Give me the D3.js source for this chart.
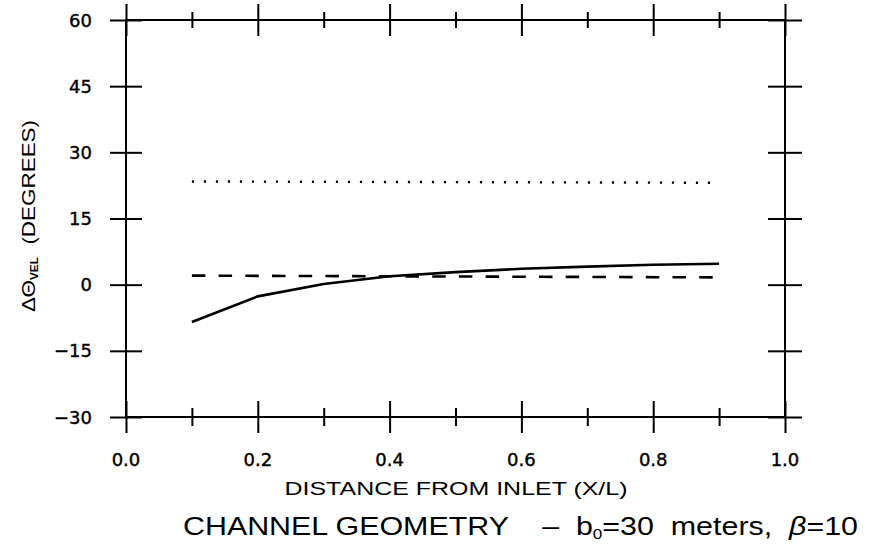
<!DOCTYPE html>
<html>
<head>
<meta charset="utf-8">
<script src="https://cdn.jsdelivr.net/npm/d3@7"></script>
<style>
  body { margin: 0; background: #fff; }
  text { fill: #000; }
</style>
</head>
<body>
<div id="chart"></div>
<script>
// values
let xMajor = [0, 0.2, 0.4, 0.6, 0.8, 1.0]
let xMinor = [0.1, 0.3, 0.5, 0.7, 0.9]
let yTicks = [-30, -15, 0, 15, 30, 45, 60]

let solidX = [0.1, 0.2, 0.3, 0.4, 0.5, 0.6, 0.7, 0.8, 0.9]
let solidY = [-8.45, -2.65, 0.15, 1.9, 2.85, 3.6, 4.1, 4.5, 4.75]

let dashedX = [0.1, 0.9]
let dashedY = [2.05, 1.65]

let dottedX = [0.1, 0.9]
let dottedY = [23.4, 23.1]

let width = 880
let height = 558
let margin = { top: 20, left: 126, right: 95, bottom: 141 }

let svg = d3
  .select('#chart')
  .append('svg')
  .attr('width', width)
  .attr('height', height)

let x = d3.scaleLinear().domain([0, 1]).range([margin.left, width - margin.right])
let y = d3.scaleLinear().domain([-30, 60]).range([height - margin.bottom, margin.top])

let axisStyle = g => {
  g.select('.domain').remove()
  g.selectAll('.tick line').attr('stroke', '#000').attr('stroke-width', 2)
  g.selectAll('.tick text').remove()
}

// ticks that cross the frame: one axis outward, one inward
function crossTicks(axisFn, scale, values, size, transform) {
  ;[size, -size].forEach(s => {
    svg
      .append('g')
      .attr('transform', transform)
      .call(axisFn(scale).tickValues(values).tickSizeInner(s).tickSizeOuter(0))
      .call(axisStyle)
  })
}

crossTicks(d3.axisTop, x, xMajor, 16, `translate(0,${y(60)})`)
crossTicks(d3.axisTop, x, xMinor, 8, `translate(0,${y(60)})`)
crossTicks(d3.axisBottom, x, xMajor, 16, `translate(0,${y(-30)})`)
crossTicks(d3.axisBottom, x, xMinor, 9, `translate(0,${y(-30)})`)
crossTicks(d3.axisLeft, y, yTicks, 16, `translate(${x(0)},0)`)
crossTicks(d3.axisRight, y, yTicks, 17, `translate(${x(1)},0)`)

// frame
svg
  .append('rect')
  .attr('x', x(0))
  .attr('y', y(60))
  .attr('width', x(1) - x(0))
  .attr('height', y(-30) - y(60))
  .attr('fill', 'none')
  .attr('stroke', '#000')
  .attr('stroke-width', 2)

// tick labels
svg
  .selectAll('.ylab')
  .data(yTicks)
  .enter()
  .append('text')
  .attr('class', 'ylab')
  .attr('x', 92)
  .attr('y', d => y(d) + 6.5)
  .attr('text-anchor', 'end')
  .attr('font-family', 'DejaVu Sans, sans-serif')
  .attr('font-size', 18)
  .attr('stroke', '#000')
  .attr('stroke-width', 0.4)
  .text(d => (d < 0 ? '\u2212' + Math.abs(d) : d))

svg
  .selectAll('.xlab')
  .data(xMajor)
  .enter()
  .append('text')
  .attr('class', 'xlab')
  .attr('x', d => x(d))
  .attr('y', 466)
  .attr('text-anchor', 'middle')
  .attr('font-family', 'DejaVu Sans, sans-serif')
  .attr('font-size', 18)
  .attr('stroke', '#000')
  .attr('stroke-width', 0.4)
  .text(d => d.toFixed(1))

// series
let line = d3
  .line()
  .x(d => x(d[0]))
  .y(d => y(d[1]))

svg
  .append('path')
  .datum(solidX.map((v, i) => [v, solidY[i]]))
  .attr('d', line)
  .attr('fill', 'none')
  .attr('stroke', '#000')
  .attr('stroke-width', 2.6)

svg
  .append('path')
  .datum(dashedX.map((v, i) => [v, dashedY[i]]))
  .attr('d', line)
  .attr('fill', 'none')
  .attr('stroke', '#000')
  .attr('stroke-width', 2.6)
  .attr('stroke-dasharray', '13.5,13.2')

svg
  .append('path')
  .datum(dottedX.map((v, i) => [v, dottedY[i]]))
  .attr('d', line)
  .attr('fill', 'none')
  .attr('stroke', '#000')
  .attr('stroke-width', 2.4)
  .attr('stroke-dasharray', '2.2,9.8')

// axis titles
svg
  .append('text')
  .attr('x', 456)
  .attr('y', 495)
  .attr('text-anchor', 'middle')
  .attr('font-family', 'Liberation Sans Narrow, Liberation Sans, Arial, sans-serif')
  .attr('font-size', 19)
  .attr('textLength', 343)
  .attr('lengthAdjust', 'spacingAndGlyphs')
  .text('DISTANCE FROM INLET (X/L)')

let ylab = svg
  .append('text')
  .attr('transform', 'translate(35,216) rotate(-90)')
  .attr('text-anchor', 'middle')
  .attr('font-family', 'Liberation Sans, Arial, sans-serif')
  .attr('font-size', 19)
  .attr('textLength', 192)
  .attr('lengthAdjust', 'spacingAndGlyphs')
  .style('white-space', 'pre')
ylab.append('tspan').text('\u0394\u0398')
ylab.append('tspan').attr('font-size', 10).attr('font-weight', 'bold').attr('dy', 3).text('VEL')
ylab.append('tspan').attr('dy', -3).text('  (DEGREES)')

// caption
let cap = svg
  .append('text')
  .attr('x', 183)
  .attr('y', 535)
  .attr('font-family', 'Liberation Sans Narrow, Liberation Sans, Arial, sans-serif')
  .attr('font-size', 25)
  .attr('textLength', 675)
  .attr('lengthAdjust', 'spacingAndGlyphs')
  .style('white-space', 'pre')
cap.append('tspan').text('CHANNEL GEOMETRY    \u2013  b')
cap.append('tspan').attr('font-size', 14).attr('dy', 4).text('0')
cap.append('tspan').attr('dy', -4).text('=30  meters,  ')
cap.append('tspan').attr('font-style', 'italic').text('\u03b2')
cap.append('tspan').text('=10')
</script>
</body>
</html>
